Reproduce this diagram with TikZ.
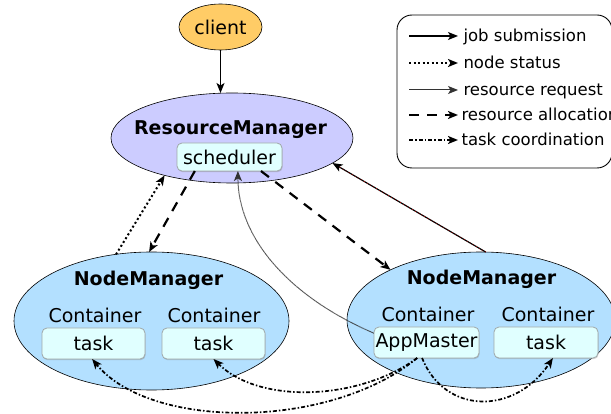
\documentclass[tikz,border=0pt]{standalone}
\usepackage{fontspec}
\setmainfont{DejaVu Sans}
\usetikzlibrary{arrows.meta,shapes.geometric,shadows}

\definecolor{clientfill}{HTML}{FFCC66}
\definecolor{rmfill}{HTML}{CCCCFF}
\definecolor{nmfill}{HTML}{B3E0FF}
\definecolor{boxfill}{HTML}{E0FFFF}
\definecolor{boxline}{HTML}{A0A8A8}

\tikzset{
  every node/.style={font=\fontsize{19}{22}\selectfont},
  tip/.style={-{Stealth[length=10pt,width=8pt,inset=2.5pt]}},
  oval/.style={ellipse, draw=black, line width=0.6pt, inner sep=0pt, outer sep=0pt},
  compbox/.style={rectangle, rounded corners=5pt, draw=boxline, line width=0.8pt,
    fill=boxfill, inner sep=1pt, outer sep=0pt,
    drop shadow={shadow xshift=0.6pt, shadow yshift=-1.2pt, opacity=0.35}},
  title/.style={anchor=base, font=\fontsize{19}{22}\selectfont\bfseries},
  caption/.style={anchor=base},
  jobsub/.style={tip, line width=1.3pt},
  nodestat/.style={tip, line width=2pt, dash pattern=on 2pt off 2.5pt},
  resreq/.style={tip, line width=1pt, draw=black!80, dash pattern=on 0.5pt off 0.5pt},
  resalloc/.style={tip, line width=2.2pt, dash pattern=on 10pt off 8pt},
  taskcoord/.style={tip, line width=1.7pt, dash pattern=on 4pt off 2pt on 1.5pt off 2pt},
  legtext/.style={anchor=base west, font=\fontsize{16.5}{19}\selectfont},
}

\begin{document}
\begin{tikzpicture}[x=1pt,y=-1pt]
\useasboundingbox (0,0) rectangle (611,414);

% client and ResourceManager
\node[oval, fill=clientfill, minimum width=83pt, minimum height=46pt] (client) at (220.5,27) {client};
\node[oval, fill=rmfill, minimum width=242pt, minimum height=90pt] (rm) at (232,138) {};
\node[title] (rmtitle) at (230.5,135) {ResourceManager};
\node[compbox, minimum width=105pt, minimum height=28pt] (sched) at (229.5,157) {scheduler};

% left NodeManager
\node[oval, fill=nmfill, minimum width=275pt, minimum height=138pt] (lnm) at (151.5,321) {};
\node[title] (lnmtitle) at (148.5,286) {NodeManager};
\node[caption] (lc1) at (95,322.7) {Container};
\node[caption] (lc2) at (214,322.7) {Container};
\node[compbox, minimum width=103pt, minimum height=31pt] (t1) at (93.5,343.5) {task};
\node[compbox, minimum width=103pt, minimum height=31pt] (t2) at (213.5,343.5) {task};

% right NodeManager
\node[oval, fill=nmfill, minimum width=268pt, minimum height=136pt] (rnm) at (481,320) {};
\node[title] (rnmtitle) at (481.5,285) {NodeManager};
\node[caption] (rc1) at (428,321.7) {Container};
\node[caption] (rc2) at (548,321.7) {Container};
\node[compbox, minimum width=105pt, minimum height=31pt] (am) at (426.5,342.5) {AppMaster};
\node[compbox, minimum width=104pt, minimum height=31pt] (t3) at (546,342.5) {task};

% job submission
\draw[jobsub] (client.south) -- (rm.north -| client.south);

% node status
\draw[nodestat] (lnm.118) -- (rm.209);
\draw[tip, line width=1.2pt] (rnm.86) -- (rm.-14.7);
\draw[line width=0.5pt, draw=red!80!black, dash pattern=on 1pt off 2.5pt, shorten >=8pt] (rnm.86) -- (rm.-14.7);

% resource allocation
\draw[resalloc] (sched.202) -- (lnm.92);
\draw[resalloc] (sched.-24) -- (rnm.151.2);

% resource request
\draw[resreq] (am.170) .. controls (285,295) and (238,235) .. (sched.-59);

% task coordination
\draw[taskcoord] (am.-121) .. controls (330,430) and (150,430) .. (t1.-95);
\draw[taskcoord] (am.-121) .. controls (360,400) and (260,405) .. (t2.-90);
\draw[taskcoord] (am.-106) .. controls (445,415) and (515,415) .. (t3.-66);

% legend
\draw[line width=0.9pt, rounded corners=15pt] (397,15) rectangle (612,168);
\foreach \n/\y in {1/36,2/63,3/90,4/115,5/140}{
  \coordinate (ls\n) at (409,\y);
  \coordinate (le\n) at (458,\y);
}
\draw[jobsub] (ls1) -- (le1);
\draw[nodestat] (ls2) -- (le2);
\draw[resreq] (ls3) -- (le3);
\draw[resalloc] (ls4) -- (le4);
\draw[taskcoord] (ls5) -- (le5);
\node[legtext] (lt1) at ([xshift=2pt,yshift=-5.5pt]le1) {job submission};
\node[legtext] (lt2) at ([xshift=2pt,yshift=-5.5pt]le2) {node status};
\node[legtext] (lt3) at ([xshift=2pt,yshift=-5.5pt]le3) {resource request};
\node[legtext] (lt4) at ([xshift=0pt,yshift=-5.5pt]le4) {resource allocation};
\node[legtext] (lt5) at ([xshift=0pt,yshift=-5.5pt]le5) {task coordination};
\end{tikzpicture}
\end{document}
